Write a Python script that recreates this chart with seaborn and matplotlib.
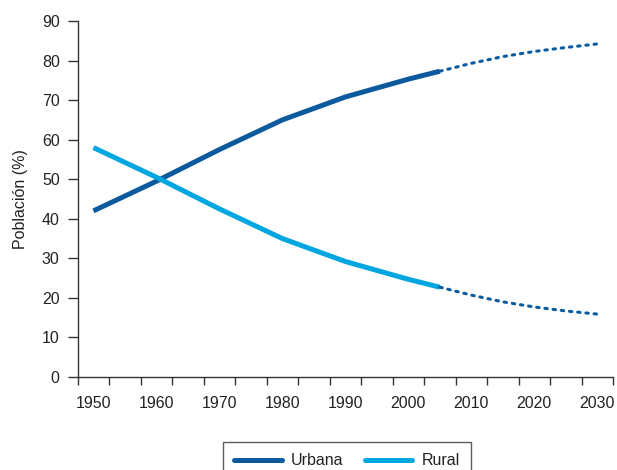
import numpy as np
import pandas as pd
import matplotlib
matplotlib.use('Agg')
import matplotlib.pyplot as plt
import seaborn as sns
from matplotlib.lines import Line2D

sns.set_style('ticks')
plt.rcParams['font.family'] = ['Liberation Sans', 'DejaVu Sans']

# observed values
years = [1950, 1960, 1970, 1980, 1990, 2000, 2005]
urbana = [42.0, 49.5, 57.5, 65.0, 70.8, 75.3, 77.3]
rural = [58.0, 50.5, 42.5, 35.0, 29.2, 24.7, 22.7]

# projections
years_proj = [2005, 2010, 2015, 2020, 2025, 2030]
urbana_proj = [77.3, 79.3, 81.0, 82.3, 83.3, 84.2]
rural_proj = [22.7, 20.7, 19.0, 17.7, 16.7, 15.9]

label_years = [1950, 1960, 1970, 1980, 1990, 2000, 2010, 2020, 2030]
dark = '#0b5a9e'
light = '#00a6e0'
txt = '#222222'

fig = plt.figure(figsize=(6.17, 4.70), dpi=100)
ax = fig.add_axes([77.7 / 617, 1 - 377 / 470, (613 - 77.7) / 617, (377 - 21) / 470])

obs = pd.DataFrame({'year': years, 'Urbana': urbana, 'Rural': rural})
proj = pd.DataFrame({'year': years_proj, 'Urbana': urbana_proj, 'Rural': rural_proj})

sns.lineplot(data=obs, x='year', y='Urbana', color=dark, lw=3.6, ax=ax, solid_capstyle='butt')
sns.lineplot(data=obs, x='year', y='Rural', color=light, lw=3.6, ax=ax, solid_capstyle='butt')
dots = (0, (0.8, 1.9))
sns.lineplot(data=proj, x='year', y='Urbana', color=dark, lw=2.2, ax=ax, linestyle=dots, dash_capstyle='round')
sns.lineplot(data=proj, x='year', y='Rural', color=dark, lw=2.2, ax=ax, linestyle=dots, dash_capstyle='round')

ax.set_xlim(1947.5, 2032.5)
ax.set_ylim(0, 90)
ax.set_yticks(range(0, 91, 10))
ax.set_xticks(label_years)
ax.set_xticks(np.arange(1947.5, 2033, 5), minor=True)
ax.tick_params(axis='x', which='major', length=0, pad=14, labelsize=11.5, labelcolor=txt)
ax.tick_params(axis='x', which='minor', length=6, width=1, color='#333333')
ax.tick_params(axis='y', length=7, width=1, color='#333333', labelsize=11.5, pad=6, labelcolor=txt)
ax.set_xlabel('')
ax.set_ylabel('Población (%)', fontsize=11.5, labelpad=10, color=txt)
sns.despine(ax=ax)
for s in ['left', 'bottom']:
    ax.spines[s].set_color('#333333')
    ax.spines[s].set_linewidth(1)

handles = [Line2D([], [], color=dark, lw=3.6), Line2D([], [], color=light, lw=3.6)]
leg = fig.legend(handles, ['Urbana', 'Rural'], loc='upper center', bbox_to_anchor=(347 / 617, 1 - 442 / 470),
                 ncol=2, frameon=True, fancybox=False, fontsize=11.5, handlelength=3.0,
                 handletextpad=0.6, columnspacing=1.3, borderpad=0.7, borderaxespad=0,
                 labelcolor=txt)
leg.get_frame().set_edgecolor('#333333')
leg.get_frame().set_linewidth(1)

fig.savefig('out.png', dpi=100)
